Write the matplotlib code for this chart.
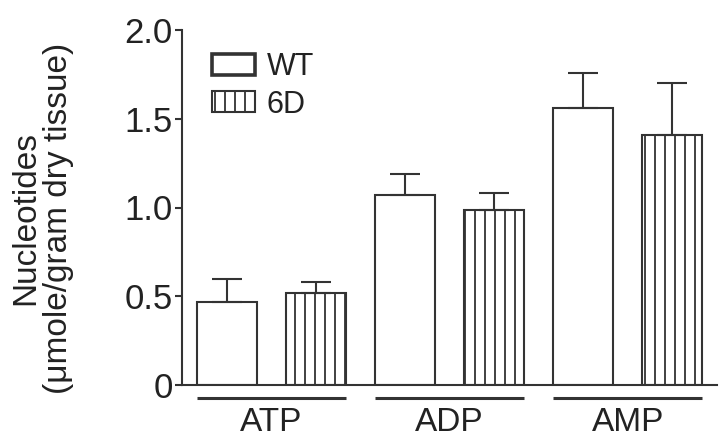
import matplotlib
matplotlib.use("Agg")
import matplotlib.pyplot as plt
from matplotlib.patches import Patch
import numpy as np

categories = ["ATP", "ADP", "AMP"]
series_names = ["WT", "6D"]
wt_mean = [0.47, 1.07, 1.56]
wt_err = [0.13, 0.12, 0.20]
d6_mean = [0.52, 0.985, 1.41]
d6_err = [0.06, 0.095, 0.29]
yticks = [0, 0.5, 1.0, 1.5, 2.0]
ytick_labels = ["0", "0.5", "1.0", "1.5", "2.0"]

DPI = 120
k = 100 / DPI  # sizes below are tuned for 100 dpi, rescaled here

plt.rcParams["font.family"] = ["Liberation Sans", "DejaVu Sans"]
plt.rcParams["hatch.linewidth"] = 1.3 * k
plt.rcParams["hatch.color"] = "#333333"
INK = "#333333"
TXT = "#222222"

W, H = 723, 438
fig = plt.figure(figsize=(W / DPI, H / DPI), dpi=DPI)
ax = fig.add_axes([182 / W, 1 - 385 / H, (717 - 182) / W, (385 - 30) / H])

x = np.arange(len(categories))
off = 0.25
bw = 0.336

for means, errs, sign, hatch in [(wt_mean, wt_err, -1, None), (d6_mean, d6_err, 1, "||")]:
    pos = x + sign * off
    ax.bar(pos, means, width=bw, facecolor="white", edgecolor=INK,
           linewidth=1.5 * k, hatch=hatch, zorder=2)
    ax.errorbar(pos, means, yerr=[np.zeros(len(means)), errs], fmt="none",
                ecolor=INK, elinewidth=1.5 * k, capsize=10.8 * k, capthick=1.5 * k,
                zorder=3)

# group underlines
for xi in x:
    ax.plot([xi - off - bw / 2, xi + off + bw / 2], [-0.073, -0.073], color=INK,
            linewidth=2.2 * k, clip_on=False, solid_capstyle="butt")

ax.set_xlim(-0.5, 2.5)
ax.set_ylim(0, 2.0)
ax.set_yticks(yticks)
ax.set_yticklabels(ytick_labels)
ax.set_xticks(x)
ax.set_xticklabels(categories)
ax.tick_params(axis="x", length=0, pad=15.5 * k, labelsize=24 * k, labelcolor=TXT)
ax.tick_params(axis="y", length=5 * k, width=1.5 * k, pad=1.5 * k, labelsize=25 * k,
               labelcolor=TXT, color=INK)

for s in ["top", "right"]:
    ax.spines[s].set_visible(False)
for s in ["left", "bottom"]:
    ax.spines[s].set_linewidth(1.5 * k)
    ax.spines[s].set_color(INK)

ax.set_ylabel("Nucleotides\n(μmole/gram dry tissue)", fontsize=24 * k, color=TXT,
              linespacing=1.1)
ax.yaxis.label.set_va("center")
ax.yaxis.set_label_coords((42 - 182) / 535, (385 - 218) / 355)

handles = [Patch(facecolor="white", edgecolor=INK, linewidth=2.6 * k),
           Patch(facecolor="white", edgecolor=INK, linewidth=1.5 * k, hatch="||")]
leg = ax.legend(handles, series_names, loc="upper left",
                bbox_to_anchor=((212 - 182) / 535, (385 - 52) / 355),
                frameon=False, fontsize=22 * k, handlelength=1.4, handleheight=0.68,
                handletextpad=0.4, labelspacing=0.25, borderaxespad=0, borderpad=0)
for t in leg.get_texts():
    t.set_color(TXT)

fig.savefig("out.png", dpi=DPI)
